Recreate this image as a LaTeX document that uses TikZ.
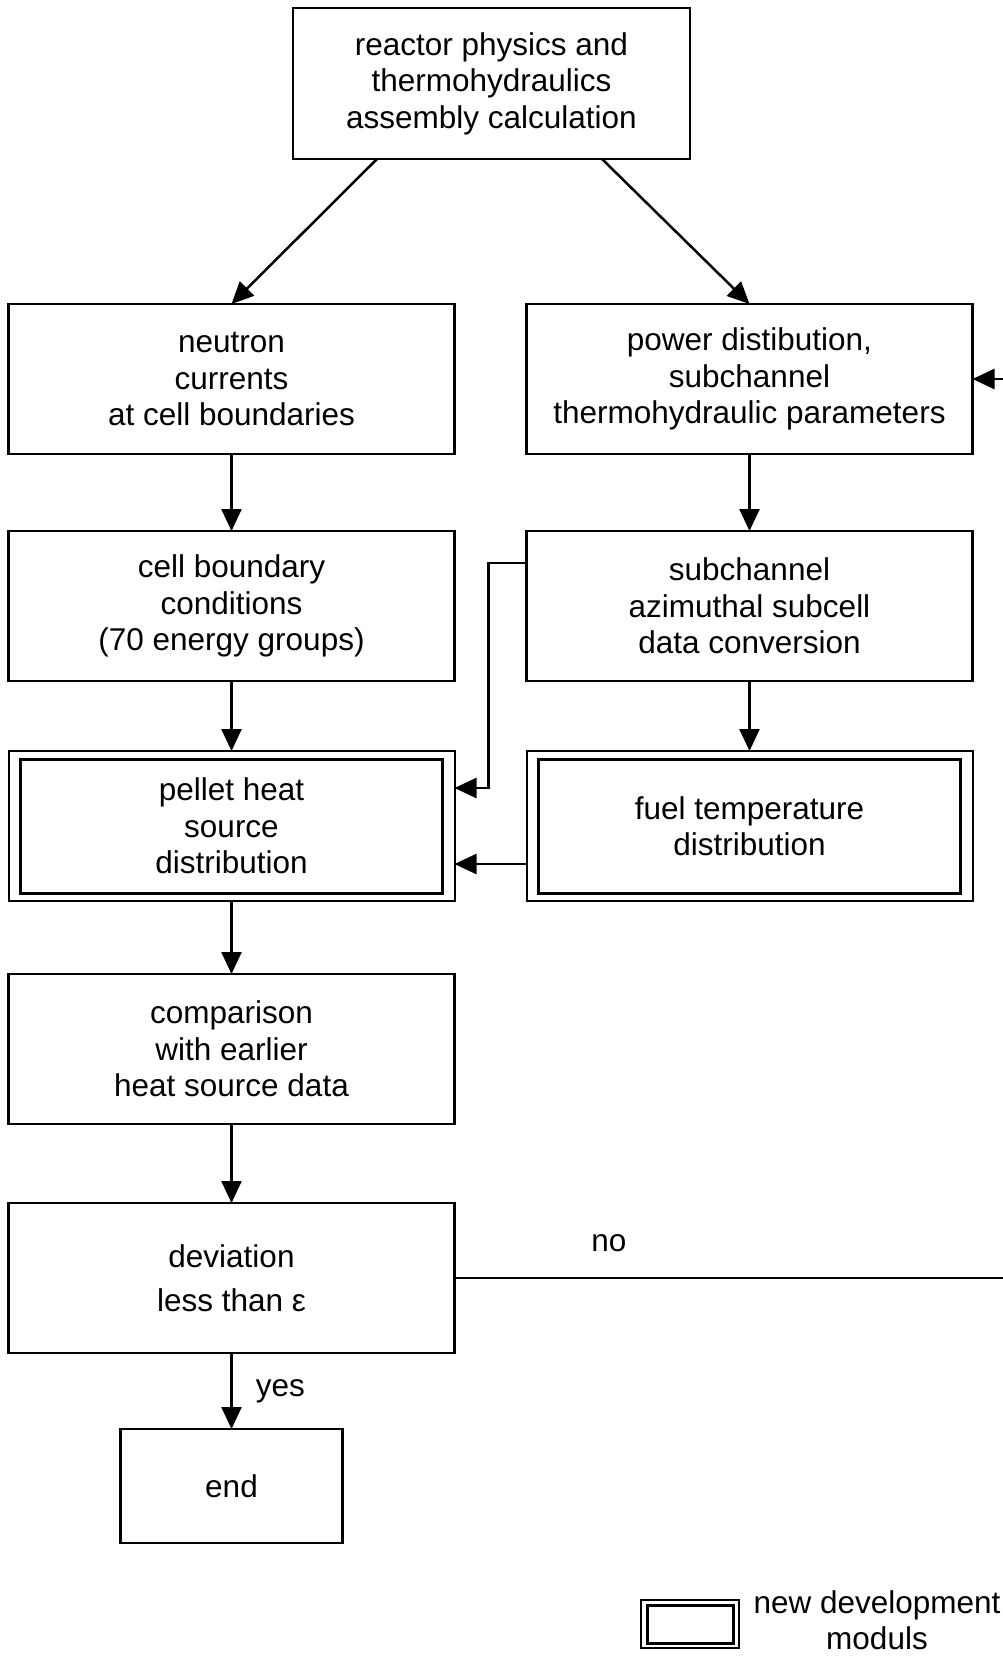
\documentclass[tikz,border=0pt]{standalone}
\usepackage{fontspec}
\setmainfont{Liberation Sans}
\usetikzlibrary{arrows.meta,positioning,calc}

\begin{document}
\begin{tikzpicture}[x=1pt, y=-1pt,
  box/.style={draw, line width=2.5pt, outer sep=0pt, inner sep=0pt, align=center, minimum width=446pt, minimum height=150pt, font=\fontsize{31.5}{36.5}\selectfont},
  newbox/.style={box, line width=2pt},
  inner/.style={line width=3pt},
  note/.style={align=center, inner sep=0pt, font=\fontsize{31.5}{36.5}\selectfont},
  arr/.style={-{Triangle[length=22pt,width=20pt]}, line width=2.5pt}
]
\useasboundingbox (0,0) rectangle (1003,1658);

\node[box, minimum width=397pt, minimum height=151pt] (top) at (491.5,83.5) {reactor physics and\\thermohydraulics\\assembly calculation};

\node[box] (neutron) at (231.5,379) {neutron\\currents\\at cell boundaries};
\node[box, right=72pt of neutron] (power) {power distibution,\\subchannel\\thermohydraulic parameters};
\draw[arr] ([xshift=84pt]top.south west) -- (neutron.north);
\draw[arr] ([xshift=-88pt]top.south east) -- (power.north);

\node[box, below=77pt of neutron] (cell) {cell boundary\\conditions\\(70 energy groups)};
\node[box, below=77pt of power] (subch) {subchannel\\azimuthal subcell\\data conversion};
\draw[arr] (neutron.south) -- (cell.north);
\draw[arr] (power.south) -- (subch.north);

% new development moduls
\node[newbox, below=70pt of cell] (pellet) {pellet heat\\source\\distribution};
\node[newbox, below=70pt of subch] (fuel) {fuel temperature\\distribution};
\draw[inner] ([shift={(12pt,-8pt)}]pellet.north west) rectangle ([shift={(-12pt,8pt)}]pellet.south east);
\draw[inner] ([shift={(12pt,-8pt)}]fuel.north west) rectangle ([shift={(-12pt,8pt)}]fuel.south east);
\draw[arr] (cell.south) -- (pellet.north);
\draw[arr] (subch.south) -- (fuel.north);
\draw[arr] ([yshift=-32pt]subch.north west) -- ++(-38pt,0) |- ([yshift=-37pt]pellet.north east);
\draw[arr] ([yshift=-38pt]fuel.west) -- ([yshift=-38pt]pellet.east);

\node[box, below=73pt of pellet] (comp) {comparison\\with earlier\\heat source data};
\draw[arr] (pellet.south) -- (comp.north);

\node[box, below=79pt of comp] (dev) {deviation\\[8pt]less than ε};
\draw[arr] (comp.south) -- (dev.north);

\node[box, minimum width=222pt, minimum height=114pt, below=76pt of dev] (end) {end};
\draw[arr] (dev.south) -- node[note, right=23pt] (yes) {yes} (end.north);

% iteration back to the power distribution
\coordinate (rt) at (1006,0);
\draw[arr] (dev.east) -- node[note, pos=0.28, above=25pt] (no) {no} (dev.east -| rt) |- (power.east);

% legend
\node[newbox, minimum width=98pt, minimum height=48pt] (legbox) at (690,1624) {};
\draw[inner] ([shift={(6pt,-5pt)}]legbox.north west) rectangle ([shift={(-6pt,5pt)}]legbox.south east);
\node[note] (legtext) at (877,1620) {new development\\moduls};

\end{tikzpicture}
\end{document}
